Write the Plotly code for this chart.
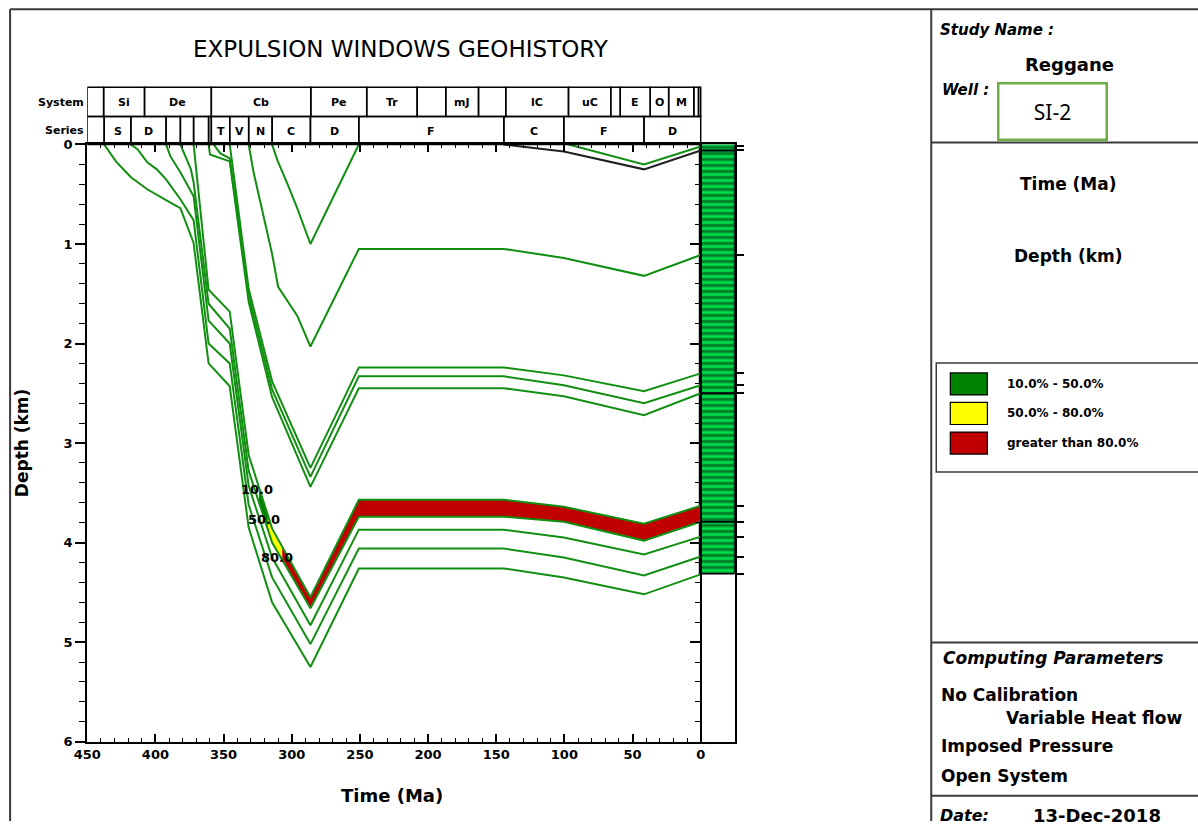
import numpy as np
import plotly.graph_objects as go

W, H = 1198, 829

# The page shows the figure slightly reduced and offset; layout positions below are
# given in on-screen pixels and converted to paper fractions through this mapping.
SX, OX = 0.986, 13.9
SY, OY = 0.980, 7.8


def px(x):
    """on-screen x (pixels) -> paper fraction"""
    return (x - OX) / SX / W


def py(y):
    """on-screen y (pixels, from top) -> paper fraction"""
    return 1 - (y - OY) / SY / H


# ---------------- burial histories (age in Ma, depth in km) ----------------
# Silurian-Devonian horizons (oldest at bottom of the well)
A1_age = [437.6, 429, 418, 406, 392.2, 381.7, 372, 361, 345.5, 331.6, 314.4, 286.3, 250.8, 144.4, 100.4, 41.6, 0]
A1_dep = [0, 0.17, 0.33, 0.45, 0.56, 0.64, 0.99, 2.20, 2.43, 3.85, 4.60, 5.25, 4.26, 4.26, 4.35, 4.52, 4.32]
A2_age = [418, 413, 406, 399, 392.2, 381.7, 372, 361, 345.5, 331.6, 314.4, 286.3, 250.8, 144.4, 100.4, 41.6, 0]
A2_dep = [0, 0.05, 0.18, 0.25, 0.35, 0.55, 0.76, 2.00, 2.20, 3.62, 4.35, 5.02, 4.06, 4.06, 4.15, 4.33, 4.14]
A3_age = [392.2, 389, 381.7, 372, 361, 345.5, 331.6, 314.4, 286.3, 250.8, 144.4, 100.4, 41.6, 0]
A3_dep = [0, 0.12, 0.28, 0.52, 1.77, 2.00, 3.43, 4.15, 4.83, 3.87, 3.87, 3.95, 4.12, 3.94]
A4_age = [381.7, 378, 374, 372, 361, 345.5, 331.6, 314.4, 286.3, 250.8, 144.4, 100.4, 41.6, 0]
A4_dep = [0, 0.12, 0.25, 0.38, 1.60, 1.85, 3.28, 4.00, 4.66, 3.74, 3.74, 3.79, 3.98, 3.79]
A5_age = [372, 361, 345.5, 331.6, 314.4, 286.3, 250.8, 144.4, 100.4, 41.6, 0]
A5_dep = [0, 1.46, 1.68, 3.12, 3.86, 4.55, 3.57, 3.57, 3.64, 3.81, 3.63]

# Tournaisian horizons
T3_age = [361, 360, 345.5, 331.6, 314.4, 286.3, 250.8, 144.4, 100.4, 41.6, 0]
T3_dep = [0, 0.10, 0.17, 1.58, 2.54, 3.44, 2.45, 2.45, 2.53, 2.72, 2.50]
T2_age = [357.3, 352.4, 345.5, 331.6, 314.4, 286.3, 250.8, 144.4, 100.4, 41.6, 0]
T2_dep = [0, 0.09, 0.14, 1.52, 2.46, 3.34, 2.33, 2.33, 2.42, 2.60, 2.42]
T1_age = [345.5, 331.6, 314.4, 286.3, 250.8, 144.4, 100.4, 41.6, 0]
T1_dep = [0, 1.45, 2.38, 3.25, 2.24, 2.24, 2.32, 2.48, 2.30]

# Namurian top
N_age = [331.6, 328, 314.4, 310, 296, 286.3, 250.8, 144.4, 100.4, 41.6, 0]
N_dep = [0, 0.28, 1.10, 1.43, 1.72, 2.03, 1.05, 1.05, 1.14, 1.32, 1.11]

# Horizon removed by the Hercynian erosion
E_age = [314.4, 310.5, 303, 296, 286.3, 250.8]
E_dep = [0, 0.16, 0.40, 0.64, 1.00, 0]

# Cretaceous horizons
B_age = [144.4, 120, 100.4, 41.6, 0]
B_dep = [0, 0.04, 0.07, 0.25, 0.06]
G_age = [96.9, 41.6, 0]
G_dep = [0, 0.20, 0.02]

green_horizons = [
    (A1_age, A1_dep), (A2_age, A2_dep), (A3_age, A3_dep), (A4_age, A4_dep), (A5_age, A5_dep),
    (T3_age, T3_dep), (T2_age, T2_dep), (T1_age, T1_dep),
    (N_age, N_dep), (E_age, E_dep), (G_age, G_dep),
]
black_horizons = [(B_age, B_dep)]

# Expulsion thresholds of the source layer (between A5 and A4)
expulsion_ages = [324, 317.5, 307]          # 10 %, 50 %, 80 %
expulsion_labels = ["10.0", "50.0", "80.0"]
window_colors = ["#008000", "#ffff00", "#c00000"]
window_names = ["10.0% - 50.0%", "50.0% - 80.0%", "greater than 80.0%"]

# Stratigraphic strips
system_ages = [450, 438, 408, 359, 286, 245, 208, 187, 163, 143, 97, 66, 59, 37, 23.5, 5, 1.6, 0]
system_names = ["", "Si", "De", "Cb", "Pe", "Tr", "", "mJ", "", "lC", "uC", "", "E", "O", "M", "", ""]
series_ages = [450, 437.6, 418, 392.2, 381.7, 372, 361, 359, 345.5, 331.6, 314.4, 286.3, 250.8, 144.4, 100.4, 41.6, 0]
series_names = ["", "S", "D", "", "", "", "", "T", "V", "N", "C", "D", "F", "C", "F", "D"]

# Well column
present_tops = sorted(d[-1] for a, d in green_horizons + black_horizons if a[-1] == 0)
well_td = max(present_tops)
formations = [("Namurien", 0.06, 1.11), ("Viséen", 1.11, 2.30), ("Fammenien", 2.50, 3.63)]
column_breaks = [0.06, 2.50, 3.79]

FONT = "DejaVu Sans"
LINE_GREEN = "#118f11"

fig = go.Figure()


def layer_polygon(t_old, t_young):
    ts = sorted({t_old, t_young} | {a for a in A5_age + A4_age if t_young < a < t_old}, reverse=True)
    top = np.interp(ts, A5_age[::-1], A5_dep[::-1])
    bot = np.interp(ts, A4_age[::-1], A4_dep[::-1])
    return ts + ts[::-1], list(top) + list(bot[::-1])


bounds = expulsion_ages + [0]
for i in range(3):
    xs, ys = layer_polygon(bounds[i], bounds[i + 1])
    fig.add_trace(go.Scatter(x=xs, y=ys, fill="toself", fillcolor=window_colors[i],
                             line=dict(width=0), mode="lines", showlegend=False,
                             hoverinfo="skip"))

for ages, deps in green_horizons:
    fig.add_trace(go.Scatter(x=ages, y=deps, mode="lines",
                             line=dict(color=LINE_GREEN, width=2.0),
                             showlegend=False, hoverinfo="skip"))
for ages, deps in black_horizons:
    fig.add_trace(go.Scatter(x=ages, y=deps, mode="lines",
                             line=dict(color="#202020", width=2.0),
                             showlegend=False, hoverinfo="skip"))

# lithology column of the well
fig.add_trace(go.Bar(x=[-12.5], y=[well_td], base=[0], width=[25],
                     marker=dict(color="#00e04a", line=dict(color="black", width=1.5),
                                 pattern=dict(shape="-", fgcolor="#061206", bgcolor="#00e04a",
                                              size=6, solidity=0.5)),
                     showlegend=False, hoverinfo="skip"))

# carriers for the extra depth axes
for ax in ("y2", "y3"):
    fig.add_trace(go.Scatter(x=[None], y=[None], yaxis=ax, showlegend=False, hoverinfo="skip"))

shapes = []
annotations = []


def text(x, y, s, size, xref="paper", yref="paper", xanchor="center", italic=False,
         bold=True, family=FONT, **kw):
    if xref == "paper":
        x = px(x)
    if yref == "paper":
        y = py(y)
    annotations.append(dict(x=x, y=y, xref=xref, yref=yref, text=s, showarrow=False,
                            xanchor=xanchor, yanchor="middle",
                            font=dict(family=family, size=size, color="black",
                                      weight="bold" if bold else "normal",
                                      style="italic" if italic else "normal"), **kw))


# column internal boundaries
for d in column_breaks:
    shapes.append(dict(type="line", xref="x", yref="y", x0=0, x1=-25, y0=d, y1=d,
                       line=dict(color="black", width=2)))

# strips
ROW_SYS = (88, 117)
ROW_SER = (117, 145)
for ages, names, (ya, yb) in ((system_ages, system_names, ROW_SYS), (series_ages, series_names, ROW_SER)):
    for i, name in enumerate(names):
        shapes.append(dict(type="rect", xref="x", yref="paper", x0=ages[i], x1=ages[i + 1],
                           y0=py(yb), y1=py(ya), line=dict(color="black", width=1.5)))
        if name:
            text((ages[i] + ages[i + 1]) / 2, (ya + yb) / 2 + 1, name, 11, xref="x")
text(86, 103, "System", 11, xanchor="right")
text(86, 131, "Series", 11, xanchor="right")

# expulsion labels on the source layer
shifts = [(-2, -2), (-4, -4), (-5, -11)]
for t, lab, (dx, dy) in zip(expulsion_ages, expulsion_labels, shifts):
    d = float(np.interp(t, A5_age[::-1], A5_dep[::-1]))
    text(t, d, lab, 13, xref="x", yref="y", xshift=dx, yshift=dy)

# formation names next to the column
for name, top, base in formations:
    text(-28, (top + base) / 2, name, 12, xref="x", yref="y", xanchor="left")

# titles
text(400, 50, "EXPULSION WINDOWS GEOHISTORY", 23, bold=False)
text(391, 795, "Time (Ma)", 18)
text(22, 443, "Depth (km)", 17, textangle=-90)

# frame
FRAME = dict(color="#3a3a3a", width=2)
shapes += [
    dict(type="line", xref="paper", yref="paper", x0=px(10), x1=1, y0=py(10), y1=py(10), line=FRAME),
    dict(type="line", xref="paper", yref="paper", x0=px(10), x1=px(10), y0=py(10), y1=0, line=FRAME),
    dict(type="line", xref="paper", yref="paper", x0=px(929), x1=px(929), y0=py(10), y1=0, line=FRAME),
    dict(type="line", xref="paper", yref="paper", x0=px(929), x1=1, y0=py(143), y1=py(143), line=FRAME),
    dict(type="line", xref="paper", yref="paper", x0=px(929), x1=1, y0=py(642), y1=py(642), line=FRAME),
    dict(type="line", xref="paper", yref="paper", x0=px(929), x1=1, y0=py(795), y1=py(795), line=FRAME),
    dict(type="rect", xref="paper", yref="paper", x0=px(934), x1=px(1203), y0=py(472), y1=py(363),
         line=dict(color="#3a3a3a", width=1.5)),
]

# legend of expulsion windows
for i, (c, name) in enumerate(zip(window_colors, window_names)):
    yc = 384 + i * 29.5
    shapes.append(dict(type="rect", xref="paper", yref="paper", x0=px(948), x1=px(985),
                       y0=py(yc + 11), y1=py(yc - 11), fillcolor=c,
                       line=dict(color="black", width=1.2)))
    text(1003, yc, name, 12, xanchor="left")

# information panel
text(936, 31, "Study Name :", 15, xanchor="left", italic=True)
text(1067, 65, "Reggane", 18)
text(938, 91, "Well :", 15, xanchor="left", italic=True)
text(1050, 112, "SI-2", 21, bold=False, family="Noto Sans", width=106, height=54, borderpad=0,
     bgcolor="white", bordercolor="#70ad47", borderwidth=2.5)
text(1066, 184, "Time (Ma)", 17)
text(1066, 256, "Depth (km)", 17)
text(939, 658, "Computing Parameters", 17, xanchor="left", italic=True)
text(937, 694, "No Calibration", 17, xanchor="left")
text(1002, 717, "Variable Heat flow", 17, xanchor="left")
text(937, 745, "Imposed Pressure", 17, xanchor="left")
text(937, 775, "Open System", 17, xanchor="left")
text(936, 815, "Date:", 16, xanchor="left", italic=True)
text(1029, 815, "13-Dec-2018", 18, xanchor="left")

tick_font = dict(family=FONT, size=13, color="black", weight="bold")
depth_major = list(range(0, 7))
depth_minor = [round(v * 0.2, 1) for v in range(31) if v % 5]

fig.update_layout(
    width=W, height=H, autosize=False,
    margin=dict(l=0, r=0, t=0, b=0),
    paper_bgcolor="white", plot_bgcolor="white",
    showlegend=False, bargap=0,
    shapes=shapes, annotations=annotations,
    xaxis=dict(domain=[px(87), px(733)], range=[450, -25],
               tickvals=list(range(0, 451, 50)), ticks="inside", ticklen=8, tickwidth=1.5,
               tickcolor="black",
               minor=dict(tickvals=list(range(0, 451, 10)), ticks="inside", ticklen=4,
                          tickwidth=1.2, tickcolor="black"),
               showline=True, linecolor="black", linewidth=2, mirror="ticks",
               showgrid=False, zeroline=False, tickfont=tick_font, fixedrange=True),
    yaxis=dict(domain=[py(741), py(145)], range=[6, 0],
               tickvals=depth_major, ticks="outside", ticklen=10, tickwidth=1.5, tickcolor="black",
               minor=dict(tickvals=depth_minor, ticks="outside", ticklen=6, tickwidth=1.2,
                          tickcolor="black"),
               showline=True, linecolor="black", linewidth=2, mirror=True,
               showgrid=False, zeroline=False, tickfont=tick_font, fixedrange=True),
    yaxis2=dict(overlaying="y", anchor="free", position=px(699), side="right", range=[6, 0],
                tickvals=depth_major, ticks="inside", ticklen=10, tickwidth=1.5, tickcolor="black",
                minor=dict(tickvals=depth_minor, ticks="inside", ticklen=5, tickwidth=1.2,
                           tickcolor="black"),
                showline=True, linecolor="black", linewidth=2, showticklabels=False,
                showgrid=False, zeroline=False, fixedrange=True),
    yaxis3=dict(overlaying="y", anchor="free", position=px(733), side="right", range=[6, 0],
                tickvals=present_tops, ticks="outside", ticklen=8, tickwidth=1.5, tickcolor="black",
                showline=False, showticklabels=False, showgrid=False, zeroline=False,
                fixedrange=True),
)

fig.write_html("out.html")
